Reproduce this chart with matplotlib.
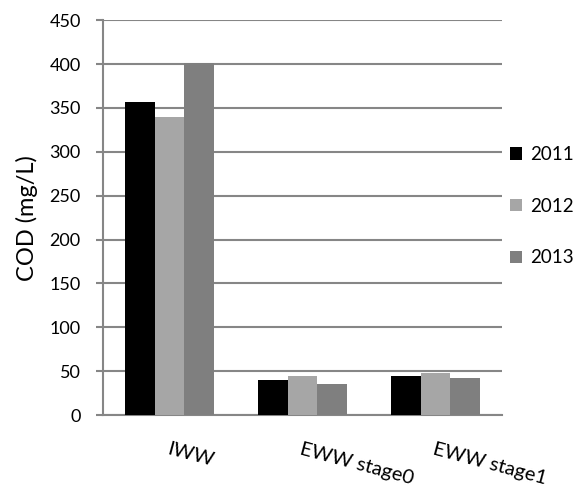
import matplotlib
matplotlib.use("Agg")
import matplotlib.pyplot as plt
import numpy as np

plt.rcParams['font.family'] = ['Lato', 'DejaVu Sans']

categories = ["IWW", "EWW stage0", "EWW stage1"]
years = ["2011", "2012", "2013"]
cod_2011 = [357, 40, 44]
cod_2012 = [340, 44.5, 48.5]
cod_2013 = [401, 36, 42]
colors = ["#000000", "#a6a6a6", "#7f7f7f"]

fig = plt.figure(figsize=(5.82, 4.93), dpi=100)
ax = fig.add_axes([0.177, 0.158, 0.686, 0.801])

x = np.arange(len(categories))
width = 0.222
for i, (vals, c, lab) in enumerate(zip([cod_2011, cod_2012, cod_2013], colors, years)):
    ax.bar(x + (i - 1) * width, vals, width, color=c, label=lab, zorder=3)

ax.set_xlim(-0.5, 2.5)
ax.set_ylim(0, 450)
ax.set_yticks(np.arange(0, 451, 50))
ax.yaxis.grid(True, color="#868686", linewidth=1.5, zorder=0)
ax.tick_params(axis="y", length=5, width=1.5, color="#868686", labelsize=13, pad=11)
ax.tick_params(axis="x", length=0, labelsize=14.5, pad=18)
for s in ["top", "right"]:
    ax.spines[s].set_visible(False)
for s in ["left", "bottom"]:
    ax.spines[s].set_color("#868686")
    ax.spines[s].set_linewidth(1.5)

ax.set_xticks(x)
ax.set_xticklabels(categories, rotation=-15, ha="left", rotation_mode="anchor")
ax.set_ylabel("COD (mg/L)", fontsize=17, labelpad=8)

ax.legend(loc="center left", bbox_to_anchor=(0.99, 0.529), frameon=False,
          fontsize=13.5, handlelength=0.65, handleheight=0.65, labelspacing=1.85,
          handletextpad=0.45, borderaxespad=0.2)

fig.savefig("out.png", dpi=100)
